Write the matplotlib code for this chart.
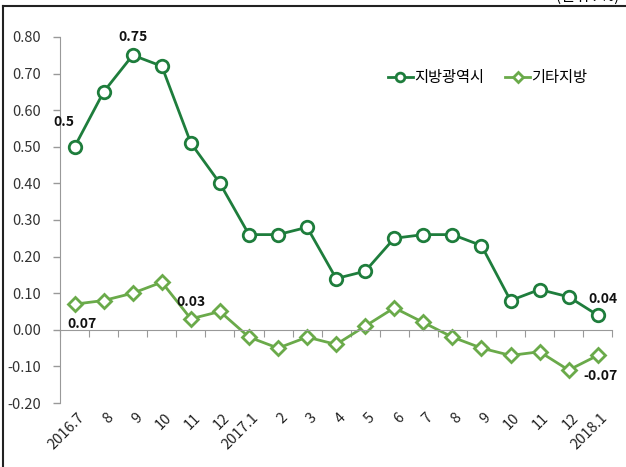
import matplotlib
matplotlib.use("Agg")
import matplotlib.pyplot as plt
import numpy as np
from matplotlib.lines import Line2D

plt.rcParams['font.family'] = ['Noto Sans CJK KR', 'DejaVu Sans']

labels = ['2016.7', '8', '9', '10', '11', '12', '2017.1', '2', '3', '4', '5', '6',
          '7', '8', '9', '10', '11', '12', '2018.1']
metro = [0.50, 0.65, 0.75, 0.72, 0.51, 0.40, 0.26, 0.26, 0.28, 0.14, 0.16, 0.25,
         0.26, 0.26, 0.23, 0.08, 0.11, 0.09, 0.04]
other = [0.07, 0.08, 0.10, 0.13, 0.03, 0.05, -0.02, -0.05, -0.02, -0.04, 0.01, 0.06,
         0.02, -0.02, -0.05, -0.07, -0.06, -0.11, -0.07]
series_names = ['지방광역시', '기타지방']
yticks = [-0.2, -0.1, 0.0, 0.1, 0.2, 0.3, 0.4, 0.5, 0.6, 0.7, 0.8]

c1 = '#1E7D3C'
c2 = '#6AAA4A'

fig = plt.figure(figsize=(6.26, 4.67), dpi=100)
ax = fig.add_axes([0.096, 0.137, 0.882, 0.784])

x = np.arange(len(labels))
ax.plot(x, metro, color=c1, lw=2, marker='o', ms=9, mfc='white', mec=c1, mew=2, label=series_names[0])
ax.plot(x, other, color=c2, lw=2, marker='D', ms=7.5, mfc='white', mec=c2, mew=2, label=series_names[1])

ax.set_xlim(-0.5, len(labels) - 0.5)
ax.set_ylim(-0.2, 0.8)
ax.set_yticks(yticks)
ax.set_yticklabels([f'{v:.2f}' for v in yticks], fontsize=10.5, color='#333333')
ax.tick_params(axis='y', length=5, color='#999999', width=1, pad=9)

for s in ['top', 'right']:
    ax.spines[s].set_visible(False)
ax.spines['left'].set_color('#999999')
ax.spines['bottom'].set_color('#999999')
ax.spines['bottom'].set_position(('data', 0))

ax.set_xticks(np.arange(len(labels) + 1) - 0.5)
ax.set_xticklabels([])
ax.tick_params(axis='x', length=5, color='#999999', direction='out')

for i, lab in enumerate(labels):
    ax.text(i + 0.08, -0.02, lab, transform=ax.get_xaxis_transform(), rotation=45,
            ha='right', va='top', rotation_mode='anchor', fontsize=10.5, color='#222222')

# annotations
bold = dict(fontsize=10, fontweight='bold', color='#111111')
ax.annotate('0.5', (0, metro[0]), xytext=(-8, 15), textcoords='offset points', ha='center', **bold)
ax.annotate('0.75', (2, metro[2]), xytext=(0, 10), textcoords='offset points', ha='center', **bold)
ax.annotate('0.07', (0, other[0]), xytext=(5, -17), textcoords='offset points', ha='center', **bold)
ax.annotate('0.03', (4, other[4]), xytext=(0, 9), textcoords='offset points', ha='center', **bold)
ax.annotate('0.04', (18, metro[18]), xytext=(-7, 9), textcoords='offset points', ha='left', **bold)
ax.annotate('-0.07', (18, other[18]), xytext=(-10, -18), textcoords='offset points', ha='left', **bold)

leg = ax.legend(loc='upper right', bbox_to_anchor=(0.98, 0.95), ncol=2, frameon=False,
                fontsize=11, handlelength=1.6, handletextpad=0.1, columnspacing=1.4,
                markerscale=0.7)

# frame lines (left & top)
fig.add_artist(Line2D([3/626, 3/626], [0, 1 - 6/467], color='#222222', lw=1.5))
fig.add_artist(Line2D([3/626, 1], [1 - 6/467, 1 - 6/467], color='#222222', lw=1.5))
fig.text(0.99, 1 - 1/467, '(단위 : %)', ha='right', va='baseline', fontsize=11)

fig.savefig('out.png', dpi=100)
